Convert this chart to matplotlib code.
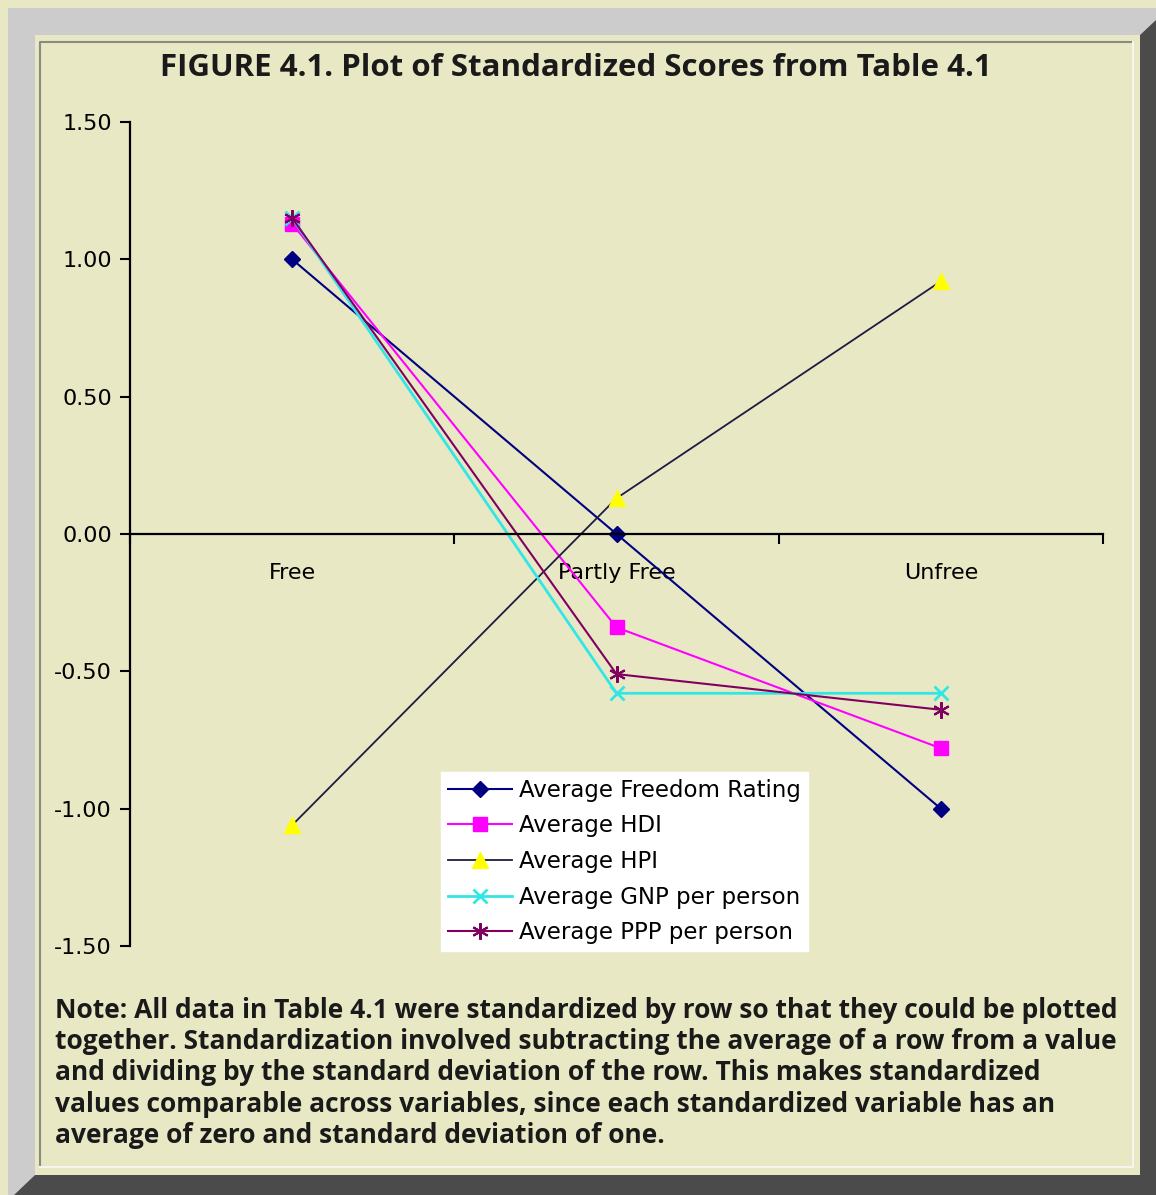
import matplotlib
matplotlib.use("Agg")
import matplotlib.pyplot as plt
from matplotlib.patches import Polygon
from matplotlib.lines import Line2D
from matplotlib.ticker import FixedLocator, FormatStrFormatter

plt.rcParams['axes.unicode_minus'] = False

categories = ["Free", "Partly Free", "Unfree"]
freedom = [1.00, 0.00, -1.00]
hdi = [1.13, -0.34, -0.78]
hpi = [-1.06, 0.13, 0.92]
gnp = [1.15, -0.58, -0.58]
ppp = [1.15, -0.51, -0.64]

title = "FIGURE 4.1. Plot of Standardized Scores from Table 4.1"
note = ("Note: All data in Table 4.1 were standardized by row so that they could be plotted\n"
        "together. Standardization involved subtracting the average of a row from a value\n"
        "and dividing by the standard deviation of the row. This makes standardized\n"
        "values comparable across variables, since each standardized variable has an\n"
        "average of zero and standard deviation of one.")

W, H = 1156, 1195
BG = "#e9e8c5"

fig = plt.figure(figsize=(W / 100, H / 100), dpi=100)
fig.patch.set_facecolor(BG)


def px(x, y):
    return (x / W, 1 - y / H)


def poly(pts, color, z=0):
    fig.add_artist(Polygon([px(*p) for p in pts], closed=True, transform=fig.transFigure,
                           facecolor=color, edgecolor="none", zorder=z))


def edge(pts, color, lw=1.5):
    xs, ys = zip(*[px(*p) for p in pts])
    fig.add_artist(Line2D(xs, ys, transform=fig.transFigure, color=color, lw=lw, zorder=1))


# bevel frame
poly([(8, 8), (1156, 8), (1156, 20), (1140, 35), (35, 35), (35, 1175), (14, 1195), (8, 1195)], "#cccccc")
poly([(1156, 20), (1156, 1195), (14, 1195), (35, 1175), (1140, 1175), (1140, 35)], "#4b4b4b")
poly([(35, 35), (1140, 35), (1140, 1175), (35, 1175)], BG)
edge([(40, 1167), (40, 42), (1133, 42)], "#8a8a80")
edge([(40, 1167), (1133, 1167), (1133, 42)], "#f6f6ee")

fig.text(576 / W, 1 - 68 / H, title, ha="center", va="center", fontsize=22.5,
         fontweight="bold", family="Open Sans", color="#1a1a1a")

ax = fig.add_axes([130 / W, 1 - 946 / H, (1103 - 130) / W, (946 - 122) / H])
ax.set_facecolor("none")
x = list(range(len(categories)))

ax.plot(x, freedom, color="#000080", lw=1.5, marker="D", ms=8, mfc="#000080", mec="#000080",
        label="Average Freedom Rating")
ax.plot(x, hdi, color="#ff00ff", lw=1.5, marker="s", ms=10, mfc="#ff00ff", mec="#ff00ff",
        label="Average HDI")
ax.plot(x, hpi, color="#1c1c40", lw=1.3, marker="^", ms=11, mfc="#ffff00", mec="#ffff00",
        label="Average HPI")
ax.plot(x, gnp, color="#33e6e6", lw=2, marker="x", ms=10, mew=2,
        label="Average GNP per person")
ax.plot(x, ppp, color="#800060", lw=1.5, marker=(6, 2, 0), ms=12, mew=1.5,
        label="Average PPP per person")

ax.set_xlim(-0.5, 2.5)
ax.set_ylim(-1.5, 1.5)
ax.spines["top"].set_visible(False)
ax.spines["right"].set_visible(False)
ax.spines["bottom"].set_position(("data", 0))
ax.spines["bottom"].set_linewidth(1.6)
ax.spines["left"].set_linewidth(1.6)

ax.yaxis.set_major_locator(FixedLocator([-1.5, -1.0, -0.5, 0.0, 0.5, 1.0, 1.5]))
ax.yaxis.set_major_formatter(FormatStrFormatter("%.2f"))
ax.tick_params(axis="y", direction="out", length=7, width=1.5, labelsize=16, pad=6)

ax.xaxis.set_major_locator(FixedLocator([-0.5, 0.5, 1.5, 2.5]))
ax.xaxis.set_minor_locator(FixedLocator(x))
ax.set_xticklabels([], minor=False)
ax.set_xticklabels(categories, minor=True)
ax.tick_params(axis="x", which="major", direction="out", length=7, width=1.5)
ax.tick_params(axis="x", which="minor", length=0, labelsize=16, pad=21)

leg = ax.legend(loc="upper left", bbox_to_anchor=px(441, 772), bbox_transform=fig.transFigure,
                fontsize=16.5, frameon=True, fancybox=False, handlelength=2.8,
                labelspacing=0.55, borderpad=0.3, handletextpad=0.3, borderaxespad=0)
leg.get_frame().set_facecolor("white")
leg.get_frame().set_edgecolor("white")
leg.get_frame().set_alpha(1)

fig.text(55 / W, 1 - 997 / H, note, ha="left", va="top", fontsize=19, fontweight="bold",
         family="Open Sans", color="#1a1a1a", linespacing=1.2)

fig.savefig("out.png", dpi=100, facecolor=BG)
